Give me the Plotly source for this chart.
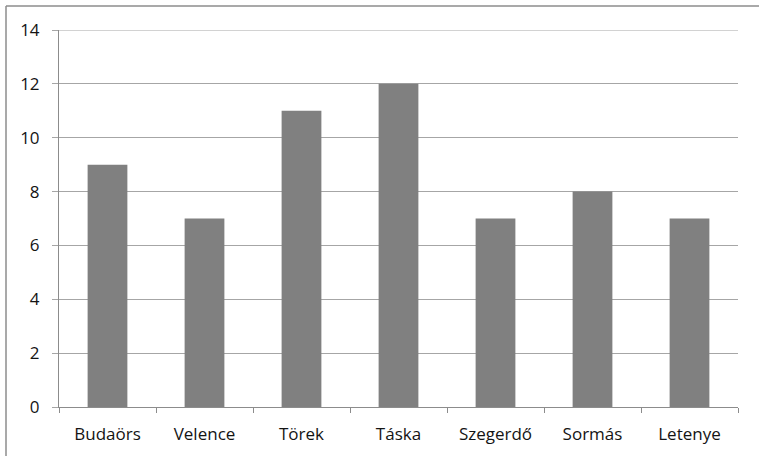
import plotly.graph_objects as go

# Data
towns = ["Budaörs", "Velence", "Törek", "Táska", "Szegerdő", "Sormás", "Letenye"]
counts = [9, 7, 11, 12, 7, 8, 7]
y_ticks = [0, 2, 4, 6, 8, 10, 12, 14]
y_max = 14

W, H = 759, 456
L, R, T, B = 59, 21, 30, 49
pw, ph = W - L - R, H - T - B

fig = go.Figure(
    go.Bar(
        x=towns,
        y=counts,
        marker=dict(color="#808080", line=dict(width=0)),
        width=0.41,
    )
)

axis_font = dict(family="Open Sans, Liberation Sans, sans-serif", size=17, color="#141414")
grid_col = "#a6a6a6"
axis_col = "#8c8c8c"

fig.update_layout(
    width=W,
    height=H,
    margin=dict(l=L, r=R, t=T, b=B),
    paper_bgcolor="white",
    plot_bgcolor="white",
    showlegend=False,
    font=axis_font,
    xaxis=dict(
        type="category",
        showgrid=False,
        showline=True,
        linecolor=axis_col,
        linewidth=1,
        ticks="outside",
        ticklen=5,
        tickcolor=axis_col,
        tickson="boundaries",
        tickfont=axis_font,
        ticklabelstandoff=12,
        range=[-0.5, len(towns) - 0.5],
    ),
    yaxis=dict(
        range=[0, y_max],
        tickvals=y_ticks,
        showgrid=True,
        gridcolor=grid_col,
        gridwidth=1,
        showline=True,
        linecolor=axis_col,
        linewidth=1,
        ticks="outside",
        ticklen=6,
        tickcolor=grid_col,
        tickfont=axis_font,
        ticklabelstandoff=9,
        zeroline=False,
    ),
    shapes=[
        # top gridline at the axis maximum
        dict(
            type="line", xref="paper", yref="y",
            x0=0, x1=1, y0=y_max, y1=y_max,
            line=dict(color=grid_col, width=1),
            layer="below",
        ),
        # chart frame: top and left edges
        dict(
            type="line", xref="paper", yref="paper",
            x0=(6 - L) / pw, x1=(W + 2 - L) / pw,
            y0=(H - B - 6) / ph, y1=(H - B - 6) / ph,
            line=dict(color=axis_col, width=1.5),
        ),
        dict(
            type="line", xref="paper", yref="paper",
            x0=(6 - L) / pw, x1=(6 - L) / pw,
            y0=(H - B - 6) / ph, y1=-(B + 2) / ph,
            line=dict(color=axis_col, width=1.5),
        ),
    ],
)

fig.write_html("out.html")
